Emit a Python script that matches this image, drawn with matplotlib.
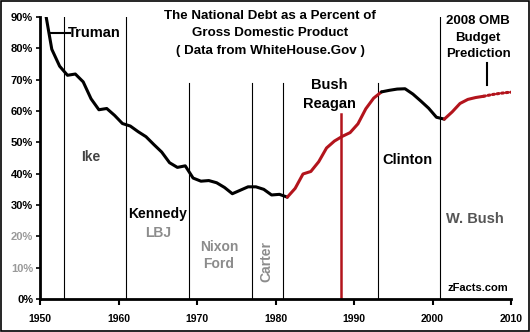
import numpy as np
import matplotlib
matplotlib.use("Agg")
import matplotlib.pyplot as plt
from matplotlib.patches import Rectangle

plt.rcParams["font.family"] = ["Liberation Sans", "DejaVu Sans"]
plt.rcParams["font.weight"] = "bold"

# gross federal debt, % of GDP (fiscal years, actual)
years = list(range(1950, 2007))
debt_pct = [94.1, 79.7, 74.3, 71.4, 71.8, 69.3, 63.9, 60.4, 60.8, 58.6,
            56.0, 55.2, 53.4, 51.8, 49.3, 46.9, 43.5, 42.0, 42.5, 38.6,
            37.6, 37.8, 37.1, 35.6, 33.6, 34.7, 35.8, 35.8, 35.0, 33.2,
            33.4, 32.5, 35.3, 39.9, 40.7, 43.8, 48.2, 50.4, 51.9, 53.1,
            55.9, 60.7, 64.1, 66.1, 66.6, 67.0, 67.1, 65.4, 63.2, 60.9,
            58.0, 57.4, 59.7, 62.4, 63.7, 64.3, 64.7]
# 2008 OMB budget prediction
pred_years = [2006, 2007, 2008, 2009, 2010]
pred_pct = [64.7, 65.2, 65.6, 65.9, 66.1]

# term boundaries: (year, top of line in %)
term_lines = [(1953, 90), (1961, 90), (1969, 69), (1977, 69), (1981, 69),
              (1993, 69), (2001, 90)]
bush_sr_year = 1988.4
bush_sr_top = 59

# coloured stretches of the curve (start year, end year, colour)
RED = "#b3141c"
stretches = [(1950, 1981, "black"), (1981, 1993, RED),
             (1993, 2001, "black"), (2001, 2006, RED)]

yticks = list(range(0, 91, 10))
xticks = list(range(1950, 2011, 10))

fig = plt.figure(figsize=(5.30, 3.32), dpi=100)
ax = fig.add_axes([0.0755, 0.0994, 0.8887, 0.8494])

x = np.array(years) + 0.5
y = np.array(debt_pct)
for a, b, col in stretches:
    m = (np.array(years) >= a) & (np.array(years) <= b)
    ax.plot(x[m], y[m], color=col, lw=2.2, solid_capstyle="round", zorder=3)
ax.plot(np.array(pred_years) + 0.5, pred_pct, color=RED, lw=2.2,
        linestyle=(0, (0.6, 0.9)), dash_capstyle="round", zorder=3)

for yr, top in term_lines:
    ax.plot([yr, yr], [0, top], color="black", lw=0.8, zorder=2)
ax.plot([bush_sr_year, bush_sr_year], [0, bush_sr_top], color=RED, lw=1.8, zorder=2)

ax.set_xlim(1950, 2010)
ax.set_ylim(0, 90)
ax.set_xticks(xticks)
ax.set_xticklabels([str(v) for v in xticks], fontsize=7.5, fontweight="bold")
ax.set_yticks(yticks)
ax.set_yticklabels([f"{v}%" for v in yticks], fontsize=8, fontweight="bold")
for lbl, v in zip(ax.get_yticklabels(), yticks):
    if v in (10, 20):
        lbl.set_color("#9a9a9a")
ax.tick_params(axis="x", length=4, width=1.5, pad=7)
ax.tick_params(axis="y", length=3, width=1.2, pad=2)
for s in ("top", "right"):
    ax.spines[s].set_visible(False)
ax.spines["left"].set_linewidth(2)
ax.spines["bottom"].set_linewidth(2)

# title
for txt, yy in [("The National Debt as a Percent of", 90.3),
                ("Gross Domestic Product", 84.9),
                ("( Data from WhiteHouse.Gov )", 79.0)]:
    ax.text(1979.3, yy, txt, ha="center", va="center", fontsize=9.6,
            fontweight="bold", clip_on=False)

# president labels
ax.plot([1951.4, 1953.8], [85, 85], color="black", lw=1.5)
ax.text(1953.6, 85, "Truman", ha="left", va="center", fontsize=10.5)
ax.text(1956.5, 45.3, "Ike", ha="center", va="center", fontsize=10, color="#444444")
ax.text(1965.0, 27.0, "Kennedy", ha="center", va="center", fontsize=10)
ax.text(1965.0, 21.0, "LBJ", ha="center", va="center", fontsize=10, color="#8c8c8c")
ax.text(1972.8, 16.6, "Nixon", ha="center", va="center", fontsize=10, color="#8c8c8c")
ax.text(1972.8, 11.2, "Ford", ha="center", va="center", fontsize=10, color="#8c8c8c")
ax.text(1978.8, 12.0, "Carter", ha="center", va="center", fontsize=10,
        color="#8c8c8c", rotation=90)
ax.text(1986.9, 68.3, "Bush", ha="center", va="center", fontsize=10.5)
ax.text(1986.9, 62.2, "Reagan", ha="center", va="center", fontsize=10.5)
ax.text(1996.8, 44.4, "Clinton", ha="center", va="center", fontsize=10.5)
ax.text(2005.4, 25.5, "W. Bush", ha="center", va="center", fontsize=10.5, color="#555555")
ax.text(2005.8, 3.6, "zFacts.com", ha="center", va="center", fontsize=8)

for txt, yy in [("2008 OMB", 88.7), ("Budget", 83.3), ("Prediction", 78.2)]:
    ax.text(2005.8, yy, txt, ha="center", va="center", fontsize=9.5, clip_on=False)
ax.plot([2007.0, 2007.0], [68.3, 75.3], color="black", lw=1.5)

fig.patches.append(Rectangle((0.001, 0.002), 0.997, 0.995, transform=fig.transFigure,
                             fill=False, lw=1.2, ec="black"))

fig.savefig("out.png", dpi=100)
